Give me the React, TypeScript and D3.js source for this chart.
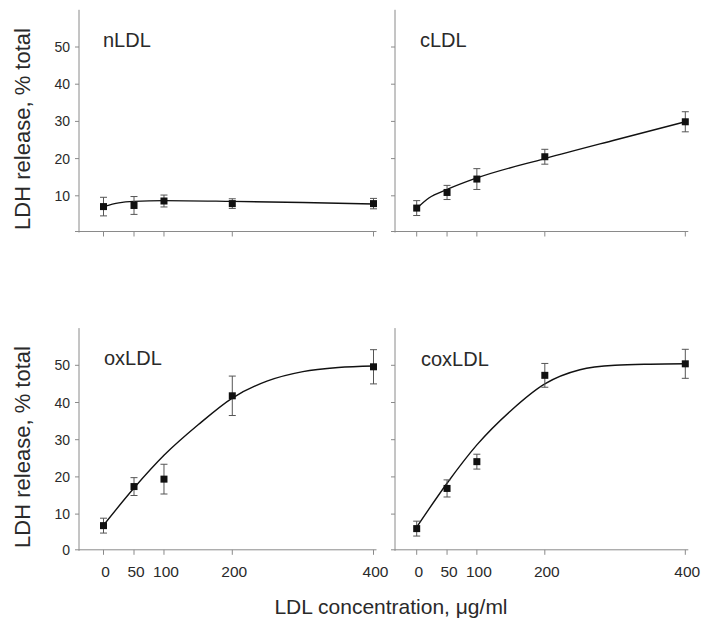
import React from "react";
import * as d3 from "d3";

// ---- data ----
const X_VALUES = [0, 50, 100, 200, 400];
const X_TICKS = [0, 50, 100, 200, 400];
const Y_TICKS = [0, 10, 20, 30, 40, 50];

const nLDL_mean = [7.1, 7.4, 8.6, 7.9, 7.9];
const nLDL_err = [2.5, 2.4, 1.6, 1.3, 1.4];
const nLDL_curve: [number, number][] = [[0, 7.1], [25, 8.1], [50, 8.5], [100, 8.7], [200, 8.5], [300, 8.2], [400, 7.8]];

const cLDL_mean = [6.7, 10.9, 14.5, 20.5, 29.9];
const cLDL_err = [2.0, 1.9, 2.8, 2.0, 2.7];
const cLDL_curve: [number, number][] = [[0, 6.6], [20, 9.4], [50, 11.7], [100, 14.8], [200, 20.0], [300, 25.0], [400, 29.9]];

const oxLDL_mean = [6.9, 17.4, 19.4, 41.8, 49.6];
const oxLDL_err = [2.0, 2.4, 4.0, 5.3, 4.6];
const oxLDL_curve: [number, number][] = [[0, 7.0], [50, 17.0], [100, 25.8], [150, 34.0], [200, 41.2], [250, 45.8], [300, 48.3], [350, 49.4], [400, 49.8]];

const coxLDL_mean = [6.1, 16.9, 24.1, 47.3, 50.4];
const coxLDL_err = [2.0, 2.3, 2.0, 3.2, 3.9];
const coxLDL_curve: [number, number][] = [[0, 6.5], [50, 18.3], [100, 28.6], [150, 37.8], [200, 45.0], [250, 48.8], [300, 50.0], [350, 50.3], [400, 50.4]];

const Y_TITLE = "LDH release, % total";
const X_TITLE = "LDL concentration, \u03bcg/ml";

// ---- layout ----
const FONT = "'Liberation Sans', Arial, Helvetica, sans-serif";
const X_FRAC = [0, 0.113, 0.224, 0.477, 1];
const Y_MAX = 60;
const PX_PER_UNIT = 3.72;

type Panel = {
  name: string;
  mean: number[];
  err: number[];
  curve: [number, number][];
  axisX: number;
  xStart: number;
  xEnd: number;
  yBase: number;
  yLabels: number[];
  xLabels: boolean;
  titleX: number;
  titleY: number;
};

const panels: Panel[] = [
  { name: "nLDL", mean: nLDL_mean, err: nLDL_err, curve: nLDL_curve, axisX: 79, xStart: 103.5, xEnd: 373.5, yBase: 233, yLabels: [10, 20, 30, 40, 50], xLabels: false, titleX: 103, titleY: 47 },
  { name: "cLDL", mean: cLDL_mean, err: cLDL_err, curve: cLDL_curve, axisX: 395, xStart: 416.7, xEnd: 685.3, yBase: 233, yLabels: [], xLabels: false, titleX: 420, titleY: 47 },
  { name: "oxLDL", mean: oxLDL_mean, err: oxLDL_err, curve: oxLDL_curve, axisX: 79, xStart: 103.5, xEnd: 373.5, yBase: 551.3, yLabels: [0, 10, 20, 30, 40, 50], xLabels: true, titleX: 104, titleY: 365 },
  { name: "coxLDL", mean: coxLDL_mean, err: coxLDL_err, curve: coxLDL_curve, axisX: 395, xStart: 416.7, xEnd: 685.3, yBase: 551.3, yLabels: [], xLabels: true, titleX: 421, titleY: 366 },
];

const AXIS = "#8a8a8a";
const TEXT = "#2a2a2a";

function PanelView({ p }: { p: Panel }) {
  const x = d3
    .scaleLinear()
    .domain(X_TICKS)
    .range(X_FRAC.map((f) => p.xStart + f * (p.xEnd - p.xStart)));
  const y = d3
    .scaleLinear()
    .domain([0, Y_MAX])
    .range([p.yBase, p.yBase - Y_MAX * PX_PER_UNIT]);
  const axisY = y(0) - 1.5;
  const line = d3
    .line<[number, number]>()
    .x((d) => x(d[0]))
    .y((d) => y(d[1]))
    .curve(d3.curveMonotoneX);
  const cap = 3.5;
  const m = 3.5;
  return (
    <g>
      {/* axes */}
      <line x1={p.axisX} x2={p.axisX} y1={y(Y_MAX)} y2={axisY + 1} stroke={AXIS} strokeWidth={1} />
      <line x1={p.axisX} x2={p.xEnd + 3} y1={axisY} y2={axisY} stroke={AXIS} strokeWidth={1} />
      {Y_TICKS.map((t) => (
        <line key={"yt" + t} x1={p.axisX - 4} x2={p.axisX} y1={t === 0 ? axisY : y(t)} y2={t === 0 ? axisY : y(t)} stroke={AXIS} strokeWidth={1} />
      ))}
      {X_TICKS.map((t) => (
        <line key={"xt" + t} x1={x(t)} x2={x(t)} y1={axisY} y2={axisY + 5} stroke={AXIS} strokeWidth={1} />
      ))}
      {p.yLabels.map((t) => (
        <text key={"yl" + t} x={p.axisX - 9} y={t === 0 ? axisY : y(t)} dy="0.36em" textAnchor="end" fontSize={14} fill={TEXT} fontFamily={FONT}>
          {t}
        </text>
      ))}
      {p.xLabels &&
        X_TICKS.map((t) => (
          <text key={"xl" + t} x={x(t) + 2} y={577} textAnchor="middle" fontSize={15.5} fill={TEXT} fontFamily={FONT}>
            {t}
          </text>
        ))}
      {/* title */}
      <text x={p.titleX} y={p.titleY} fontSize={20} fill={TEXT} fontFamily={FONT}>
        {p.name}
      </text>
      {/* fitted curve */}
      <path d={line(p.curve) || ""} fill="none" stroke="#111" strokeWidth={1.4} />
      {/* error bars */}
      {X_VALUES.map((xv, i) => {
        const cx = x(xv);
        const yHi = y(p.mean[i] + p.err[i]);
        const yLo = y(p.mean[i] - p.err[i]);
        return (
          <g key={"e" + i} stroke="#555" strokeWidth={1}>
            <line x1={cx} x2={cx} y1={yHi} y2={yLo} />
            <line x1={cx - cap} x2={cx + cap} y1={yHi} y2={yHi} />
            <line x1={cx - cap} x2={cx + cap} y1={yLo} y2={yLo} />
          </g>
        );
      })}
      {/* markers */}
      {X_VALUES.map((xv, i) => (
        <rect key={"m" + i} x={x(xv) - m} y={y(p.mean[i]) - m} width={2 * m} height={2 * m} fill="#111" />
      ))}
    </g>
  );
}

export default function App() {
  return (
    <svg width={706} height={628} style={{ position: "absolute", left: 0, top: 0, background: "#fff" }}>
      <rect x={0} y={0} width={706} height={628} fill="#fff" />
      {panels.map((p) => (
        <PanelView key={p.name} p={p} />
      ))}
      <text transform="translate(30,129) rotate(-90)" textAnchor="middle" fontSize={22} fill={TEXT} fontFamily={FONT}>
        {Y_TITLE}
      </text>
      <text transform="translate(30,447) rotate(-90)" textAnchor="middle" fontSize={22} fill={TEXT} fontFamily={FONT}>
        {Y_TITLE}
      </text>
      <text x={391} y={614} textAnchor="middle" fontSize={21} fill={TEXT} fontFamily={FONT}>
        {X_TITLE}
      </text>
    </svg>
  );
}
